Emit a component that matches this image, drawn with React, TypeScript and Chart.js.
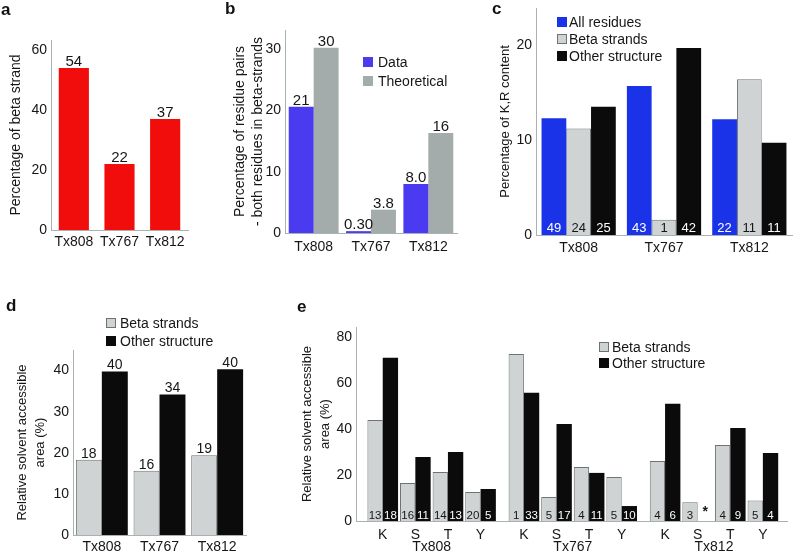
import React, { useEffect, useRef } from "react";
import { Chart, registerables } from "chart.js";
Chart.register(...registerables);

const FONT = "'Liberation Sans', Arial, Helvetica, sans-serif";
const TEXT = "#161616";
const AXIS = "#a8b2b2";
const RED = "#f20d0d";
const PURPLE = "#4a3af0";
const BLUE = "#1a33e8";
const MID_GRAY = "#a3abab";
const LIGHT = "#cfd3d3";
const LIGHT_BORDER = "#6e7474";
const BLACK = "#0b0b0b";

// ---------- Panel a ----------
const aCategories = ["Tx808", "Tx767", "Tx812"];
const aBeta = [54, 22, 37];
const aLabels = ["54", "22", "37"];
const aTicks = [0, 20, 40, 60];

// ---------- Panel b ----------
const bCategories = ["Tx808", "Tx767", "Tx812"];
const bData = [20.6, 0.3, 8.0];
const bTheoretical = [30.2, 3.8, 16.3];
const bDataLabels = ["21", "0.30", "8.0"];
const bTheoLabels = ["30", "3.8", "16"];
const bTicks = [0, 10, 20, 30];

// ---------- Panel c ----------
const cCategories = ["Tx808", "Tx767", "Tx812"];
const cAll = [12.3, 15.7, 12.2];
const cBeta = [11.2, 1.6, 16.4];
const cOther = [13.5, 19.7, 9.7];
const cAllCounts = ["49", "43", "22"];
const cBetaCounts = ["24", "1", "11"];
const cOtherCounts = ["25", "42", "11"];
const cTicks = [0, 10, 20];

// ---------- Panel d ----------
const dCategories = ["Tx808", "Tx767", "Tx812"];
const dBeta = [18.3, 15.6, 19.4];
const dOther = [39.8, 34.2, 40.3];
const dBetaLabels = ["18", "16", "19"];
const dOtherLabels = ["40", "34", "40"];
const dTicks = [0, 10, 20, 30, 40];

// ---------- Panel e ----------
const eGroups = ["Tx808", "Tx767", "Tx812"];
const eResidues = ["K", "S", "T", "Y"];
const eBeta = [43.9, 16.5, 21.3, 12.6, 72.6, 10.4, 23.5, 19.1, 26.1, 8.1, 33.0, 8.9];
const eOther: (number | null)[] = [70.9, 27.8, 30.0, 13.9, 55.7, 42.2, 20.9, 6.5, 50.9, null, 40.4, 29.5];
const eBetaCounts = ["13", "16", "14", "20", "1", "5", "4", "5", "4", "3", "4", "5"];
const eOtherCounts = ["18", "11", "13", "5", "33", "17", "11", "10", "6", "", "9", "4"];
const eMissingMarks = ["", "", "", "", "", "", "", "", "", "*", "", ""];
const eTicks = [0, 20, 40, 60, 80];
const GROUP_STEP = 4.33;

const ePositions = eBeta.map((_, i) => Math.floor(i / eResidues.length) * GROUP_STEP + (i % eResidues.length));

interface Box {
  left: number; top: number; width: number; height: number;
  plotLeft: number; plotRight: number; plotTop: number; plotBottom: number;
}

const boxA: Box = { left: 0, top: 0, width: 200, height: 270, plotLeft: 51, plotRight: 188, plotTop: 40, plotBottom: 230 };
const boxB: Box = { left: 200, top: 0, width: 260, height: 270, plotLeft: 285, plotRight: 457, plotTop: 30, plotBottom: 233 };
const boxC: Box = { left: 460, top: 0, width: 340, height: 270, plotLeft: 536, plotRight: 792, plotTop: 8, plotBottom: 235 };
const boxD: Box = { left: 0, top: 280, width: 260, height: 275, plotLeft: 73, plotRight: 246, plotTop: 350, plotBottom: 535 };
const boxE: Box = { left: 260, top: 290, width: 540, height: 265, plotLeft: 356, plotRight: 787, plotTop: 327, plotBottom: 521 };

function layoutPadding(b: Box) {
  return { left: 0, top: b.plotTop - b.top, right: b.left + b.width - b.plotRight, bottom: 0 };
}

function yAxis(b: Box, ticks: number[], max: number, title: string[], titleSize: number, titleLH: number, titlePad: number, tickSize: number) {
  return {
    type: "linear",
    min: 0,
    max,
    afterBuildTicks: (s: any) => { s.ticks = ticks.map((v) => ({ value: v })); },
    afterFit: (s: any) => { s.width = b.plotLeft - b.left; s.paddingTop = 0; s.paddingBottom = 0; },
    grid: { display: false, drawTicks: false },
    border: { display: true, color: AXIS, width: 1 },
    ticks: { color: TEXT, font: { family: FONT, size: tickSize }, padding: 4 },
    title: {
      display: true, text: title, color: TEXT,
      font: { family: FONT, size: titleSize, lineHeight: titleLH + "px" },
      padding: { top: titlePad, bottom: 0 },
    },
  };
}

function xCategory(b: Box, tickPad: number, size: number) {
  return {
    type: "category",
    offset: true,
    afterFit: (s: any) => { s.height = b.top + b.height - b.plotBottom; s.paddingLeft = 0; s.paddingRight = 0; },
    grid: { display: false, drawTicks: false, offset: true },
    border: { display: true, color: AXIS, width: 1 },
    ticks: { color: TEXT, font: { family: FONT, size }, padding: tickPad, maxRotation: 0, autoSkip: false },
  };
}

interface TextItem { dataset: number; labels: string[]; place: "top" | "bottom"; gap: number; size: number; color: string; weight?: string; }

function barText(items: TextItem[]) {
  return {
    id: "barText",
    afterDatasetsDraw(chart: any) {
      const ctx = chart.ctx;
      const base = chart.scales.y.getPixelForValue(0);
      ctx.save();
      for (const it of items) {
        const meta = chart.getDatasetMeta(it.dataset);
        ctx.font = `${it.weight || "normal"} ${it.size}px ${FONT}`;
        ctx.fillStyle = it.color;
        ctx.textAlign = "center";
        ctx.textBaseline = "alphabetic";
        meta.data.forEach((el: any, i: number) => {
          const t = it.labels[i];
          if (!t || !isFinite(el.x)) return;
          const y = it.place === "top" ? el.y - it.gap : base - it.gap;
          ctx.fillText(t, el.x, y);
        });
      }
      ctx.restore();
    },
  };
}

function boxLegend(x: number, textX: number, rows: number[], size: number, fontSize: number) {
  return {
    id: "boxLegend",
    afterDraw(chart: any) {
      const ctx = chart.ctx;
      ctx.save();
      ctx.font = `${fontSize}px ${FONT}`;
      ctx.textBaseline = "middle";
      ctx.textAlign = "left";
      chart.data.datasets.forEach((ds: any, i: number) => {
        const y = rows[i];
        ctx.fillStyle = ds.backgroundColor;
        ctx.fillRect(x, y - size / 2, size, size);
        if (ds.borderWidth) {
          ctx.strokeStyle = ds.borderColor;
          ctx.lineWidth = 1;
          ctx.strokeRect(x + 0.5, y - size / 2 + 0.5, size - 1, size - 1);
        }
        ctx.fillStyle = TEXT;
        ctx.fillText(ds.label, textX, y + 1);
      });
      ctx.restore();
    },
  };
}

const baseOptions = (b: Box, scales: any) => ({
  responsive: false,
  animation: false,
  layout: { padding: layoutPadding(b) },
  plugins: { legend: { display: false }, tooltip: { enabled: false } },
  scales,
});

function buildA(canvas: HTMLCanvasElement) {
  return new Chart(canvas, {
    type: "bar",
    data: {
      labels: aCategories,
      datasets: [{ label: "Beta strand", data: aBeta, backgroundColor: RED, borderWidth: 0, barPercentage: 0.66, categoryPercentage: 1 }],
    },
    options: baseOptions(boxA, {
      x: xCategory(boxA, 4, 14),
      y: yAxis(boxA, aTicks, 63.3, ["Percentage of beta strand"], 14, 17, 7.6, 14),
    }) as any,
    plugins: [barText([{ dataset: 0, labels: aLabels, place: "top", gap: 2, size: 15, color: TEXT }])],
  } as any);
}

function buildB(canvas: HTMLCanvasElement) {
  return new Chart(canvas, {
    type: "bar",
    data: {
      labels: bCategories,
      datasets: [
        { label: "Data", data: bData, backgroundColor: PURPLE, borderWidth: 0, barPercentage: 1, categoryPercentage: 0.87 },
        { label: "Theoretical", data: bTheoretical, backgroundColor: MID_GRAY, borderWidth: 0, barPercentage: 1, categoryPercentage: 0.87 },
      ],
    },
    options: baseOptions(boxB, {
      x: xCategory(boxB, 6, 14),
      y: yAxis(boxB, bTicks, 33.1, ["Percentage of residue pairs", "- both residues in beta-strands"], 14, 18, 31, 14),
    }) as any,
    plugins: [
      barText([
        { dataset: 0, labels: bDataLabels, place: "top", gap: 2, size: 15, color: TEXT },
        { dataset: 1, labels: bTheoLabels, place: "top", gap: 2, size: 15, color: TEXT },
      ]),
      boxLegend(163, 178, [62, 81], 10, 14),
    ],
  } as any);
}

function buildC(canvas: HTMLCanvasElement) {
  return new Chart(canvas, {
    type: "bar",
    data: {
      labels: cCategories,
      datasets: [
        { label: "All residues", data: cAll, backgroundColor: BLUE, borderWidth: 0, barPercentage: 1, categoryPercentage: 0.87 },
        { label: "Beta strands", data: cBeta, backgroundColor: LIGHT, borderColor: LIGHT_BORDER, borderWidth: 1, barPercentage: 1, categoryPercentage: 0.87 },
        { label: "Other structure", data: cOther, backgroundColor: BLACK, borderWidth: 0, barPercentage: 1, categoryPercentage: 0.87 },
      ],
    },
    options: baseOptions(boxC, {
      x: xCategory(boxC, 5, 14),
      y: yAxis(boxC, cTicks, 23.9, ["Percentage of K,R content"], 13, 16, 37, 14),
    }) as any,
    plugins: [
      barText([
        { dataset: 0, labels: cAllCounts, place: "bottom", gap: 3, size: 13, color: "#ffffff" },
        { dataset: 1, labels: cBetaCounts, place: "bottom", gap: 3, size: 13, color: TEXT },
        { dataset: 2, labels: cOtherCounts, place: "bottom", gap: 3, size: 13, color: "#ffffff" },
      ]),
      boxLegend(97, 109, [22, 39, 56], 10, 14),
    ],
  } as any);
}

function buildD(canvas: HTMLCanvasElement) {
  return new Chart(canvas, {
    type: "bar",
    data: {
      labels: dCategories,
      datasets: [
        { label: "Beta strands", data: dBeta, backgroundColor: LIGHT, borderColor: LIGHT_BORDER, borderWidth: 1, barPercentage: 1, categoryPercentage: 0.9 },
        { label: "Other structure", data: dOther, backgroundColor: BLACK, borderWidth: 0, barPercentage: 1, categoryPercentage: 0.9 },
      ],
    },
    options: baseOptions(boxD, {
      x: xCategory(boxD, 4, 14),
      y: yAxis(boxD, dTicks, 45, ["Relative solvent accessible", "area (%)"], 13, 18, 13.5, 14),
    }) as any,
    plugins: [
      barText([
        { dataset: 0, labels: dBetaLabels, place: "top", gap: 2, size: 14, color: TEXT },
        { dataset: 1, labels: dOtherLabels, place: "top", gap: 2, size: 14, color: TEXT },
      ]),
      boxLegend(106, 120, [43, 61], 10, 14),
    ],
  } as any);
}

function buildE(canvas: HTMLCanvasElement) {
  const groupLabels = {
    id: "groupLabels",
    afterDraw(chart: any) {
      const ctx = chart.ctx;
      const xs = chart.scales.x;
      ctx.save();
      ctx.font = `14px ${FONT}`;
      ctx.fillStyle = TEXT;
      ctx.textAlign = "center";
      ctx.textBaseline = "middle";
      eGroups.forEach((g, gi) => {
        ctx.fillText(g, xs.getPixelForValue(gi * GROUP_STEP + (eResidues.length - 1) / 2), 257);
      });
      ctx.restore();
    },
  };
  return new Chart(canvas, {
    type: "bar",
    data: {
      datasets: [
        {
          label: "Beta strands",
          data: eBeta.map((v, i) => ({ x: ePositions[i], y: v })),
          backgroundColor: LIGHT, borderColor: LIGHT_BORDER, borderWidth: 1, barPercentage: 1, categoryPercentage: 0.94,
        },
        {
          label: "Other structure",
          data: eOther.map((v, i) => ({ x: ePositions[i], y: v })),
          backgroundColor: BLACK, borderWidth: 0, barPercentage: 1, categoryPercentage: 0.94,
        },
      ],
    },
    options: baseOptions(boxE, {
      x: {
        type: "linear",
        min: -0.82,
        max: 2 * GROUP_STEP + 3.74,
        offset: false,
        afterBuildTicks: (s: any) => { s.ticks = ePositions.map((v) => ({ value: v })); },
        afterFit: (s: any) => { s.height = boxE.top + boxE.height - boxE.plotBottom; s.paddingLeft = 0; s.paddingRight = 0; },
        grid: { display: false, drawTicks: false },
        border: { display: true, color: AXIS, width: 1 },
        ticks: {
          color: TEXT, font: { family: FONT, size: 14 }, padding: 6, maxRotation: 0, autoSkip: false,
          callback: (_v: any, i: number) => eResidues[i % eResidues.length],
        },
      },
      y: yAxis(boxE, eTicks, 84.3, ["Relative solvent accessible", "area (%)"], 13, 18, 38, 14),
    }) as any,
    plugins: [
      barText([
        { dataset: 0, labels: eBetaCounts, place: "bottom", gap: 2, size: 11.5, color: TEXT },
        { dataset: 1, labels: eOtherCounts, place: "bottom", gap: 2, size: 11.5, color: "#ffffff" },
        { dataset: 1, labels: eMissingMarks, place: "bottom", gap: 5, size: 14, color: TEXT, weight: "bold" },
      ]),
      boxLegend(339, 352, [57, 73], 10, 14),
      groupLabels,
    ],
  } as any);
}

const panels: { box: Box; build: (c: HTMLCanvasElement) => Chart; letter: string; lx: number; ly: number }[] = [
  { box: boxA, build: buildA, letter: "a", lx: 1, ly: 1 },
  { box: boxB, build: buildB, letter: "b", lx: 225, ly: 0 },
  { box: boxC, build: buildC, letter: "c", lx: 492, ly: 0 },
  { box: boxD, build: buildD, letter: "d", lx: 6, ly: 297 },
  { box: boxE, build: buildE, letter: "e", lx: 297, ly: 298 },
];

export default function App() {
  const refs = useRef<(HTMLCanvasElement | null)[]>([]);
  useEffect(() => {
    const charts = panels.map((p, i) => p.build(refs.current[i] as HTMLCanvasElement));
    return () => charts.forEach((c) => c.destroy());
  }, []);
  return (
    <div style={{ position: "absolute", left: 0, top: 0, width: 800, height: 553, overflow: "hidden", background: "#ffffff", fontFamily: FONT }}>
      {panels.map((p, i) => (
        <canvas
          key={"c" + i}
          ref={(el) => { refs.current[i] = el; }}
          width={p.box.width}
          height={p.box.height}
          style={{ position: "absolute", left: p.box.left, top: p.box.top, width: p.box.width, height: p.box.height }}
        />
      ))}
      {panels.map((p) => (
        <div
          key={"l" + p.letter}
          style={{ position: "absolute", left: p.lx, top: p.ly, fontWeight: "bold", fontSize: 17, lineHeight: "17px", color: "#111" }}
        >
          {p.letter}
        </div>
      ))}
    </div>
  );
}
